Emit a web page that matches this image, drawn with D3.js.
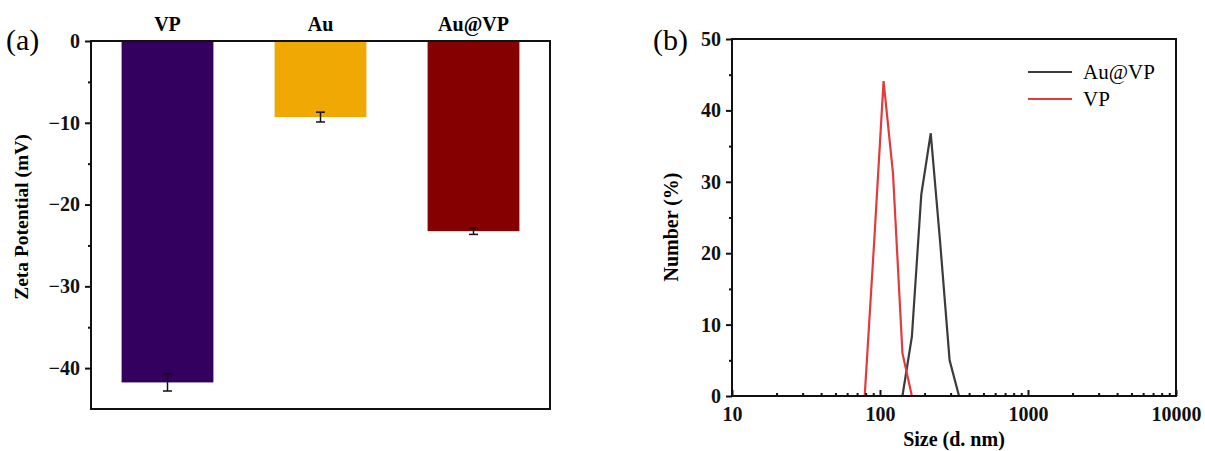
<!DOCTYPE html>
<html>
<head>
<meta charset="utf-8">
<script src="https://cdn.jsdelivr.net/npm/d3@7"></script>
<style>
  body { margin: 0; background: #fff; }
  svg { display: block; font-family: "Liberation Serif", "Times New Roman", serif; }
</style>
</head>
<body>
<svg id="chart" width="1205" height="451"></svg>
<script>
// panel (a): zeta potential
const samples = ["VP", "Au", "Au@VP"];
const zeta = [-41.75, -9.3, -23.25];
const zetaErr = [1.05, 0.6, 0.4];
const barColors = ["#330060", "#f0a804", "#850000"];
const zetaTicks = [0, -10, -20, -30, -40];

// panel (b): DLS size distribution
const vpSize = [78.82, 91.28, 105.7, 122.4, 141.8, 164.2];
const vpNumber = [0, 21.5, 44.1, 31.2, 6.0, 0];
const auvpSize = [141.8, 164.2, 190.1, 220.2, 255.0, 295.3, 342.0];
const auvpNumber = [0, 8.3, 28.2, 36.8, 21.5, 5.0, 0];
const sizeTicks = [10, 100, 1000, 10000];
const numberTicks = [0, 10, 20, 30, 40, 50];

const svg = d3.select("#chart");

// ---------- (a) ----------
const a = { left: 91, right: 550, top: 41, bottom: 409 };

const xa = d3.scaleBand().domain(samples).range([a.left, a.right])
  .paddingInner(0.4).paddingOuter(0.2);
const ya = d3.scaleLinear().domain([0, -45]).range([a.top, a.bottom]);

const ga = svg.append("g");

ga.selectAll("rect.bar")
  .data(samples)
  .enter()
  .append("rect")
  .attr("class", "bar")
  .attr("x", d => xa(d))
  .attr("width", xa.bandwidth())
  .attr("y", ya(0))
  .attr("height", (d, i) => ya(zeta[i]) - ya(0))
  .attr("fill", (d, i) => barColors[i]);

// error bars
const eb = ga.selectAll("g.err").data(samples).enter().append("g")
  .attr("stroke", "#111").attr("stroke-width", 1.5);
eb.append("line")
  .attr("x1", d => xa(d) + xa.bandwidth() / 2)
  .attr("x2", d => xa(d) + xa.bandwidth() / 2)
  .attr("y1", (d, i) => ya(zeta[i] + zetaErr[i]))
  .attr("y2", (d, i) => ya(zeta[i] - zetaErr[i]));
[1, -1].forEach(s => {
  eb.append("line")
    .attr("x1", d => xa(d) + xa.bandwidth() / 2 - 4.5)
    .attr("x2", d => xa(d) + xa.bandwidth() / 2 + 4.5)
    .attr("y1", (d, i) => ya(zeta[i] + s * zetaErr[i]))
    .attr("y2", (d, i) => ya(zeta[i] + s * zetaErr[i]));
});

// frame
ga.append("rect")
  .attr("x", a.left).attr("y", a.top)
  .attr("width", a.right - a.left).attr("height", a.bottom - a.top)
  .attr("fill", "none").attr("stroke", "#111").attr("stroke-width", 2);

// y axis
ga.append("g")
  .attr("transform", `translate(${a.left},0)`)
  .call(d3.axisLeft(ya).tickValues(zetaTicks).tickSizeInner(6).tickSizeOuter(0).tickPadding(5)
    .tickFormat(d => d === 0 ? "0" : "\u2212" + Math.abs(d)))
  .call(g => g.select(".domain").remove());
ga.append("g")
  .attr("transform", `translate(${a.left},0)`)
  .call(d3.axisLeft(ya).tickValues([-5, -15, -25, -35]).tickSize(3).tickFormat(""))
  .call(g => g.select(".domain").remove());

// category labels on top
ga.selectAll("text.cat")
  .data(samples)
  .enter()
  .append("text")
  .attr("class", "cat")
  .attr("x", d => xa(d) + xa.bandwidth() / 2)
  .attr("y", 31)
  .attr("text-anchor", "middle")
  .attr("font-size", 20)
  .attr("font-weight", "bold")
  .text(d => d);

ga.append("text")
  .attr("transform", "translate(28,217) rotate(-90)")
  .attr("text-anchor", "middle")
  .attr("font-size", 19.5)
  .attr("font-weight", "bold")
  .text("Zeta Potential (mV)");

ga.append("text")
  .attr("x", 6).attr("y", 50)
  .attr("font-size", 30)
  .text("(a)");

// ---------- (b) ----------
const b = { left: 732, right: 1176, top: 39, bottom: 396 };

const xb = d3.scaleLog().domain([10, 10000]).range([b.left, b.right]);
const yb = d3.scaleLinear().domain([0, 50]).range([b.bottom, b.top]);

const gb = svg.append("g");

const line = d3.line().x(d => xb(d[0])).y(d => yb(d[1]));

gb.append("path")
  .datum(auvpSize.map((s, i) => [s, auvpNumber[i]]))
  .attr("d", line)
  .attr("fill", "none").attr("stroke", "#3b3b3b").attr("stroke-width", 2.2);

gb.append("path")
  .datum(vpSize.map((s, i) => [s, vpNumber[i]]))
  .attr("d", line)
  .attr("fill", "none").attr("stroke", "#e23b3b").attr("stroke-width", 2.2);

gb.append("rect")
  .attr("x", b.left).attr("y", b.top)
  .attr("width", b.right - b.left).attr("height", b.bottom - b.top)
  .attr("fill", "none").attr("stroke", "#111").attr("stroke-width", 2);

// y axis
gb.append("g")
  .attr("transform", `translate(${b.left},0)`)
  .call(d3.axisLeft(yb).tickValues(numberTicks).tickSize(6).tickPadding(5))
  .call(g => g.select(".domain").remove());
gb.append("g")
  .attr("transform", `translate(${b.left},0)`)
  .call(d3.axisLeft(yb).tickValues([5, 15, 25, 35, 45]).tickSize(3).tickFormat(""))
  .call(g => g.select(".domain").remove());

// x axis: major and minor ticks point inward
const minorX = [];
[10, 100, 1000].forEach(dec => { for (let k = 2; k <= 9; k++) minorX.push(dec * k); });
gb.append("g")
  .attr("transform", `translate(0,${b.bottom})`)
  .call(d3.axisBottom(xb).tickValues(sizeTicks).tickSizeInner(-6).tickSizeOuter(0)
    .tickPadding(11).tickFormat(d3.format("d")))
  .call(g => g.select(".domain").remove());
gb.append("g")
  .attr("transform", `translate(0,${b.bottom})`)
  .call(d3.axisBottom(xb).tickValues(minorX).tickSizeInner(-3).tickSizeOuter(0).tickFormat(""))
  .call(g => g.select(".domain").remove());

gb.append("text")
  .attr("x", (b.left + b.right) / 2).attr("y", 446)
  .attr("text-anchor", "middle")
  .attr("font-size", 20)
  .attr("font-weight", "bold")
  .text("Size (d. nm)");

gb.append("text")
  .attr("transform", "translate(678,227) rotate(-90)")
  .attr("text-anchor", "middle")
  .attr("font-size", 20)
  .attr("font-weight", "bold")
  .text("Number (%)");

gb.append("text")
  .attr("x", 653).attr("y", 50)
  .attr("font-size", 30)
  .text("(b)");

// legend
const legendNames = ["Au@VP", "VP"];
const legendColors = ["#3b3b3b", "#e23b3b"];
const lg = gb.selectAll("g.leg").data(legendNames).enter().append("g")
  .attr("transform", (d, i) => `translate(1028,${72 + i * 27})`);
lg.append("line").attr("x1", 0).attr("x2", 44).attr("y1", 0).attr("y2", 0)
  .attr("stroke", (d, i) => legendColors[i]).attr("stroke-width", 2.2);
lg.append("text").attr("x", 55).attr("y", 7).attr("font-size", 21).text(d => d);

// common axis text style
svg.selectAll(".tick text")
  .attr("font-family", "Liberation Serif, serif")
  .attr("font-size", 20)
  .attr("font-weight", "bold")
  .attr("fill", "#111");
svg.selectAll(".tick line").attr("stroke", "#111").attr("stroke-width", 2);
</script>
</body>
</html>
